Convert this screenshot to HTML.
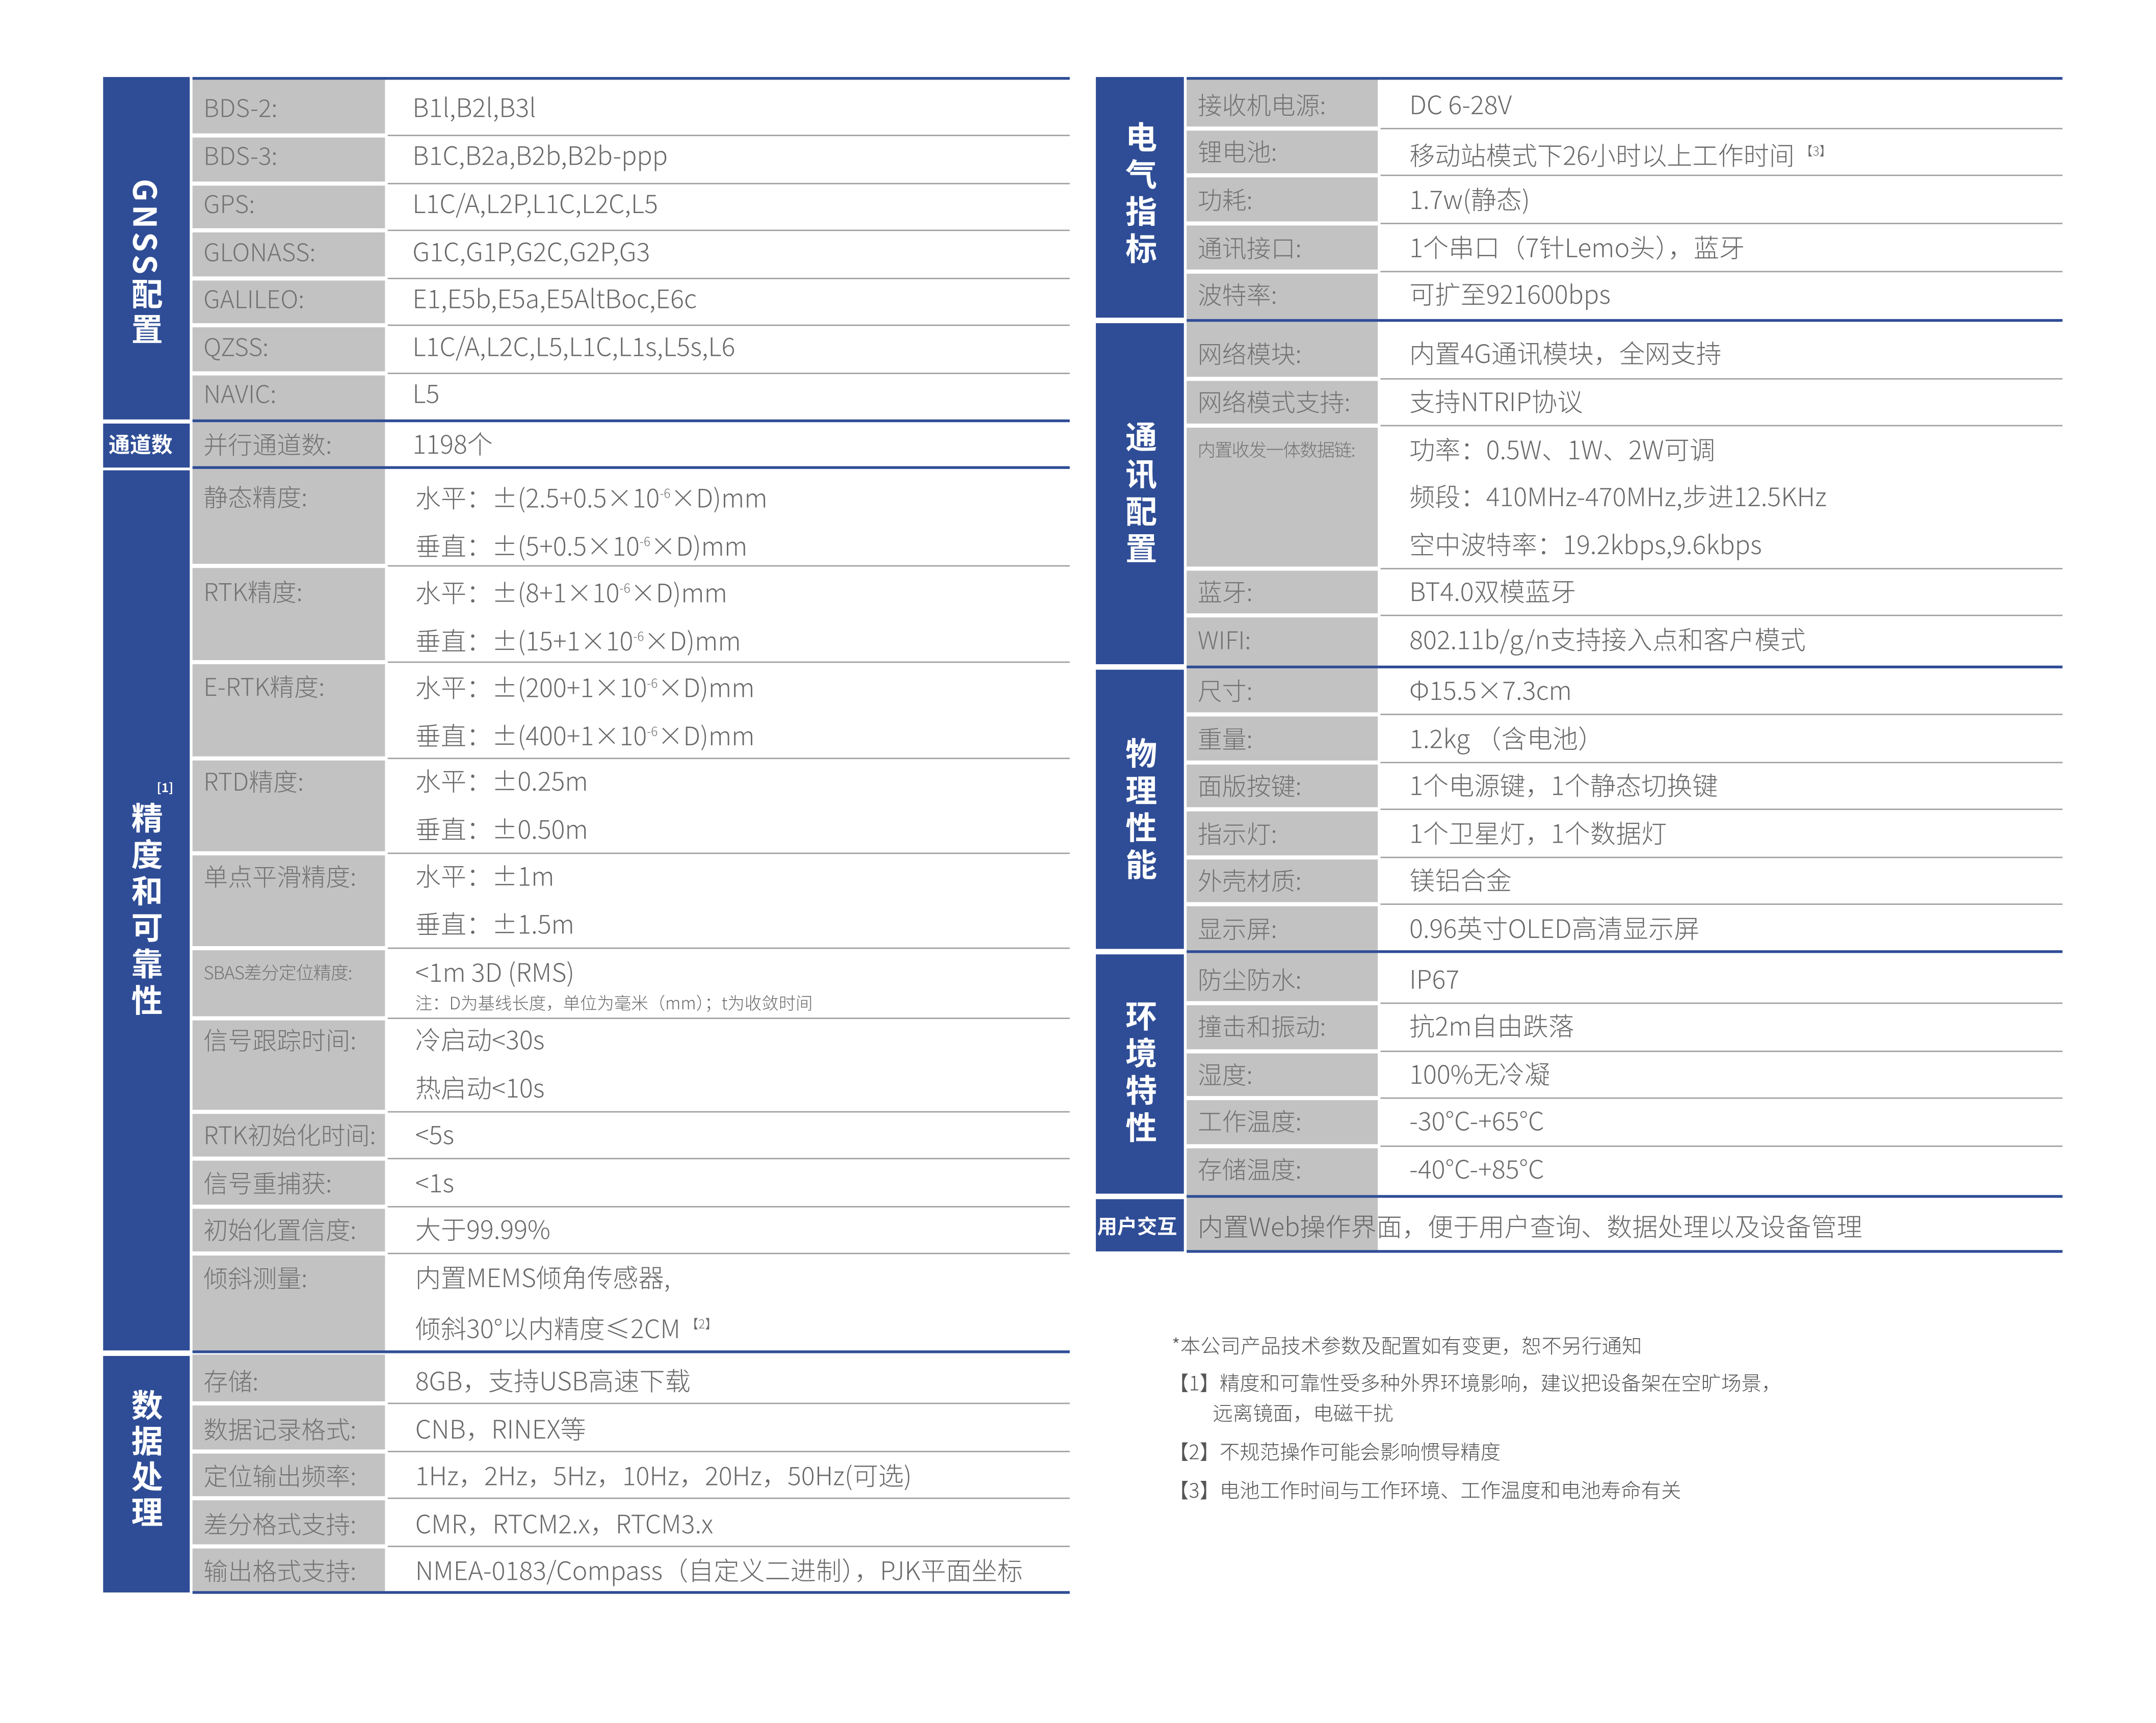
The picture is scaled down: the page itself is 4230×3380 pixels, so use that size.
<!DOCTYPE html>
<html><head><meta charset="utf-8">
<style>
html,body{margin:0;padding:0;background:#fff;}
body{width:4230px;height:3379px;overflow:hidden;position:relative;}
#w{position:absolute;left:0;top:0;width:1568px;height:1253px;transform:scale(2.6977,2.6977);transform-origin:0 0;font-family:"Liberation Sans","Noto Sans CJK SC",sans-serif;}
#w div{position:absolute;}
.b{background:#2f4d96;}
.g{background:#c2c2c2;}
.bl{background:#2f4d96;height:2px;}
.l{background:#a0a0a0;height:1px;}
.t{height:24px;line-height:24px;font-size:18.6px;white-space:nowrap;color:#6a6a6a;font-family:"Noto Sans CJK SC","Liberation Sans",sans-serif;font-weight:300;}
.lb{color:#737373;font-size:17.8px;}
.v{writing-mode:vertical-rl;text-orientation:mixed;color:#fff;font-weight:700;font-size:23px;font-family:"Noto Sans CJK SC",sans-serif;letter-spacing:3px;line-height:30px;}
.h{color:#fff;font-weight:700;font-family:"Noto Sans CJK SC",sans-serif;white-space:nowrap;}
sup{font-size:9px;vertical-align:7px;}
.n{font-size:14.6px;color:#555;height:20px;line-height:20px;white-space:nowrap;font-family:"Noto Sans CJK SC",sans-serif;font-weight:300;}
</style></head><body><div id="w">

<!-- LEFT TABLE -->
<div class="b" style="left:75px;top:56px;width:63px;height:249px"></div>
<div class="b" style="left:75px;top:308px;width:63px;height:32px"></div>
<div class="b" style="left:75px;top:342px;width:63px;height:640px"></div>
<div class="b" style="left:75px;top:986px;width:63px;height:172px"></div>

<div class="g" style="left:140px;top:58px;width:140px;height:39px"></div>
<div class="g" style="left:140px;top:100px;width:140px;height:32px"></div>
<div class="g" style="left:140px;top:135px;width:140px;height:31px"></div>
<div class="g" style="left:140px;top:169px;width:140px;height:32px"></div>
<div class="g" style="left:140px;top:204px;width:140px;height:31px"></div>
<div class="g" style="left:140px;top:238px;width:140px;height:32px"></div>
<div class="g" style="left:140px;top:273px;width:140px;height:33px"></div>
<div class="g" style="left:140px;top:307px;width:140px;height:33px"></div>
<div class="g" style="left:140px;top:341px;width:140px;height:69px"></div>
<div class="g" style="left:140px;top:413px;width:140px;height:67px"></div>
<div class="g" style="left:140px;top:483px;width:140px;height:67px"></div>
<div class="g" style="left:140px;top:553px;width:140px;height:66px"></div>
<div class="g" style="left:140px;top:622px;width:140px;height:66px"></div>
<div class="g" style="left:140px;top:691px;width:140px;height:48px"></div>
<div class="g" style="left:140px;top:742px;width:140px;height:65px"></div>
<div class="g" style="left:140px;top:810px;width:140px;height:31px"></div>
<div class="g" style="left:140px;top:844px;width:140px;height:32px"></div>
<div class="g" style="left:140px;top:879px;width:140px;height:31px"></div>
<div class="g" style="left:140px;top:913px;width:140px;height:70px"></div>
<div class="g" style="left:140px;top:985px;width:140px;height:34px"></div>
<div class="g" style="left:140px;top:1022px;width:140px;height:32px"></div>
<div class="g" style="left:140px;top:1057px;width:140px;height:31px"></div>
<div class="g" style="left:140px;top:1091px;width:140px;height:32px"></div>
<div class="g" style="left:140px;top:1126px;width:140px;height:31px"></div>

<div class="bl" style="left:140px;top:56px;width:638px"></div>
<div class="bl" style="left:140px;top:305px;width:638px"></div>
<div class="bl" style="left:140px;top:339px;width:638px"></div>
<div class="bl" style="left:140px;top:982px;width:638px"></div>
<div class="bl" style="left:140px;top:1157px;width:638px"></div>

<div class="l" style="left:282px;top:98px;width:496px"></div>
<div class="l" style="left:282px;top:133px;width:496px"></div>
<div class="l" style="left:282px;top:167px;width:496px"></div>
<div class="l" style="left:282px;top:202px;width:496px"></div>
<div class="l" style="left:282px;top:236px;width:496px"></div>
<div class="l" style="left:282px;top:271px;width:496px"></div>
<div class="l" style="left:282px;top:411px;width:496px"></div>
<div class="l" style="left:282px;top:481px;width:496px"></div>
<div class="l" style="left:282px;top:551px;width:496px"></div>
<div class="l" style="left:282px;top:620px;width:496px"></div>
<div class="l" style="left:282px;top:689px;width:496px"></div>
<div class="l" style="left:282px;top:740px;width:496px"></div>
<div class="l" style="left:282px;top:808px;width:496px"></div>
<div class="l" style="left:282px;top:842px;width:496px"></div>
<div class="l" style="left:282px;top:877px;width:496px"></div>
<div class="l" style="left:282px;top:911px;width:496px"></div>
<div class="l" style="left:282px;top:1020px;width:496px"></div>
<div class="l" style="left:282px;top:1055px;width:496px"></div>
<div class="l" style="left:282px;top:1089px;width:496px"></div>
<div class="l" style="left:282px;top:1124px;width:496px"></div>

<!-- left labels -->
<div class="v" style="left:92px;top:130px;letter-spacing:2.5px;">GNSS配置</div>
<div class="h" style="left:79px;top:311px;font-size:15.5px;line-height:24px;">通道数</div>
<div class="h" style="left:114px;top:566px;font-size:9px;">[1]</div>
<div class="v" style="left:92px;top:583px;letter-spacing:3.5px;">精度和可靠性</div>
<div class="v" style="left:92px;top:1010px;letter-spacing:3px;">数据处理</div>

<div class="t lb" style="left:148px;top:66px">BDS-2:</div>
<div class="t lb" style="left:148px;top:101px">BDS-3:</div>
<div class="t lb" style="left:148px;top:136px">GPS:</div>
<div class="t lb" style="left:148px;top:171px">GLONASS:</div>
<div class="t lb" style="left:148px;top:205px">GALILEO:</div>
<div class="t lb" style="left:148px;top:240px">QZSS:</div>
<div class="t lb" style="left:148px;top:274px">NAVIC:</div>
<div class="t lb" style="left:148px;top:311px">并行通道数:</div>
<div class="t lb" style="left:148px;top:349px">静态精度:</div>
<div class="t lb" style="left:148px;top:418px">RTK精度:</div>
<div class="t lb" style="left:148px;top:487px">E-RTK精度:</div>
<div class="t lb" style="left:148px;top:556px">RTD精度:</div>
<div class="t lb" style="left:148px;top:625px">单点平滑精度:</div>
<div class="t lb" style="left:148px;top:695px;font-size:13px;letter-spacing:-0.4px">SBAS差分定位精度:</div>
<div class="t lb" style="left:148px;top:744px">信号跟踪时间:</div>
<div class="t lb" style="left:148px;top:813px">RTK初始化时间:</div>
<div class="t lb" style="left:148px;top:848px">信号重捕获:</div>
<div class="t lb" style="left:148px;top:882px">初始化置信度:</div>
<div class="t lb" style="left:148px;top:917px">倾斜测量:</div>
<div class="t lb" style="left:148px;top:992px">存储:</div>
<div class="t lb" style="left:148px;top:1027px">数据记录格式:</div>
<div class="t lb" style="left:148px;top:1061px">定位输出频率:</div>
<div class="t lb" style="left:148px;top:1096px">差分格式支持:</div>
<div class="t lb" style="left:148px;top:1130px">输出格式支持:</div>

<!-- left values -->
<div class="t" style="left:300px;top:66px">B1l,B2l,B3l</div>
<div class="t" style="left:300px;top:101px">B1C,B2a,B2b,B2b-ppp</div>
<div class="t" style="left:300px;top:136px">L1C/A,L2P,L1C,L2C,L5</div>
<div class="t" style="left:300px;top:171px">G1C,G1P,G2C,G2P,G3</div>
<div class="t" style="left:300px;top:205px">E1,E5b,E5a,E5AltBoc,E6c</div>
<div class="t" style="left:300px;top:240px">L1C/A,L2C,L5,L1C,L1s,L5s,L6</div>
<div class="t" style="left:300px;top:274px">L5</div>
<div class="t" style="left:300px;top:311px">1198个</div>
<div class="t" style="left:302px;top:347px">水平：±(2.5+0.5×10<sup>-6</sup>×D)mm</div>
<div class="t" style="left:302px;top:382px">垂直：±(5+0.5×10<sup>-6</sup>×D)mm</div>
<div class="t" style="left:302px;top:416px">水平：±(8+1×10<sup>-6</sup>×D)mm</div>
<div class="t" style="left:302px;top:451px">垂直：±(15+1×10<sup>-6</sup>×D)mm</div>
<div class="t" style="left:302px;top:485px">水平：±(200+1×10<sup>-6</sup>×D)mm</div>
<div class="t" style="left:302px;top:520px">垂直：±(400+1×10<sup>-6</sup>×D)mm</div>
<div class="t" style="left:302px;top:556px">水平：±0.25m</div>
<div class="t" style="left:302px;top:591px">垂直：±0.50m</div>
<div class="t" style="left:302px;top:625px">水平：±1m</div>
<div class="t" style="left:302px;top:660px">垂直：±1.5m</div>
<div class="t" style="left:302px;top:695px">&lt;1m 3D (RMS)</div>
<div class="t" style="left:302px;top:719px;font-size:12.4px;height:20px;line-height:20px">注：D为基线长度，单位为毫米（mm）；t为收敛时间</div>
<div class="t" style="left:302px;top:744px">冷启动&lt;30s</div>
<div class="t" style="left:302px;top:779px">热启动&lt;10s</div>
<div class="t" style="left:302px;top:813px">&lt;5s</div>
<div class="t" style="left:302px;top:848px">&lt;1s</div>
<div class="t" style="left:302px;top:882px">大于99.99%</div>
<div class="t" style="left:302px;top:917px">内置MEMS倾角传感器,</div>
<div class="t" style="left:302px;top:951px">倾斜30°以内精度≤2CM <sup>【2】</sup></div>
<div class="t" style="left:302px;top:992px">8GB，支持USB高速下载</div>
<div class="t" style="left:302px;top:1027px">CNB，RINEX等</div>
<div class="t" style="left:302px;top:1061px">1Hz，2Hz，5Hz，10Hz，20Hz，50Hz(可选)</div>
<div class="t" style="left:302px;top:1096px">CMR，RTCM2.x，RTCM3.x</div>
<div class="t" style="left:302px;top:1130px">NMEA-0183/Compass（自定义二进制），PJK平面坐标</div>

<!-- RIGHT TABLE -->
<div class="b" style="left:797px;top:56px;width:64px;height:175px"></div>
<div class="b" style="left:797px;top:235px;width:64px;height:248px"></div>
<div class="b" style="left:797px;top:487px;width:64px;height:203px"></div>
<div class="b" style="left:797px;top:694px;width:64px;height:174px"></div>
<div class="b" style="left:797px;top:872px;width:64px;height:38px"></div>

<div class="g" style="left:863px;top:58px;width:139px;height:34px"></div>
<div class="g" style="left:863px;top:95px;width:139px;height:31px"></div>
<div class="g" style="left:863px;top:129px;width:139px;height:32px"></div>
<div class="g" style="left:863px;top:164px;width:139px;height:32px"></div>
<div class="g" style="left:863px;top:199px;width:139px;height:33px"></div>
<div class="g" style="left:863px;top:234px;width:139px;height:40px"></div>
<div class="g" style="left:863px;top:277px;width:139px;height:31px"></div>
<div class="g" style="left:863px;top:311px;width:139px;height:101px"></div>
<div class="g" style="left:863px;top:415px;width:139px;height:31px"></div>
<div class="g" style="left:863px;top:449px;width:139px;height:35px"></div>
<div class="g" style="left:863px;top:486px;width:139px;height:32px"></div>
<div class="g" style="left:863px;top:521px;width:139px;height:32px"></div>
<div class="g" style="left:863px;top:556px;width:139px;height:31px"></div>
<div class="g" style="left:863px;top:590px;width:139px;height:32px"></div>
<div class="g" style="left:863px;top:625px;width:139px;height:31px"></div>
<div class="g" style="left:863px;top:659px;width:139px;height:32px"></div>
<div class="g" style="left:863px;top:693px;width:139px;height:35px"></div>
<div class="g" style="left:863px;top:731px;width:139px;height:32px"></div>
<div class="g" style="left:863px;top:766px;width:139px;height:31px"></div>
<div class="g" style="left:863px;top:800px;width:139px;height:32px"></div>
<div class="g" style="left:863px;top:835px;width:139px;height:34px"></div>
<div class="g" style="left:863px;top:871px;width:139px;height:38px"></div>

<div class="bl" style="left:863px;top:56px;width:637px"></div>
<div class="bl" style="left:863px;top:232px;width:637px"></div>
<div class="bl" style="left:863px;top:484px;width:637px"></div>
<div class="bl" style="left:863px;top:691px;width:637px"></div>
<div class="bl" style="left:863px;top:869px;width:637px"></div>
<div class="bl" style="left:863px;top:909px;width:637px"></div>

<div class="l" style="left:1004px;top:93px;width:496px"></div>
<div class="l" style="left:1004px;top:127px;width:496px"></div>
<div class="l" style="left:1004px;top:162px;width:496px"></div>
<div class="l" style="left:1004px;top:197px;width:496px"></div>
<div class="l" style="left:1004px;top:275px;width:496px"></div>
<div class="l" style="left:1004px;top:309px;width:496px"></div>
<div class="l" style="left:1004px;top:413px;width:496px"></div>
<div class="l" style="left:1004px;top:447px;width:496px"></div>
<div class="l" style="left:1004px;top:519px;width:496px"></div>
<div class="l" style="left:1004px;top:554px;width:496px"></div>
<div class="l" style="left:1004px;top:588px;width:496px"></div>
<div class="l" style="left:1004px;top:623px;width:496px"></div>
<div class="l" style="left:1004px;top:657px;width:496px"></div>
<div class="l" style="left:1004px;top:729px;width:496px"></div>
<div class="l" style="left:1004px;top:764px;width:496px"></div>
<div class="l" style="left:1004px;top:798px;width:496px"></div>
<div class="l" style="left:1004px;top:833px;width:496px"></div>

<div class="v" style="left:815px;top:88px;letter-spacing:4px;">电气指标</div>
<div class="v" style="left:815px;top:306px;letter-spacing:4px;">通讯配置</div>
<div class="v" style="left:815px;top:536px;letter-spacing:4px;">物理性能</div>
<div class="v" style="left:815px;top:727px;letter-spacing:4px;">环境特性</div>
<div class="h" style="left:798px;top:881px;font-size:14.5px;line-height:22px;">用户交互</div>

<div class="t lb" style="left:871px;top:64px">接收机电源:</div>
<div class="t lb" style="left:871px;top:98px">锂电池:</div>
<div class="t lb" style="left:871px;top:133px">功耗:</div>
<div class="t lb" style="left:871px;top:168px">通讯接口:</div>
<div class="t lb" style="left:871px;top:202px">波特率:</div>
<div class="t lb" style="left:871px;top:245px">网络模块:</div>
<div class="t lb" style="left:871px;top:280px">网络模式支持:</div>
<div class="t lb" style="left:871px;top:315px;font-size:13px;letter-spacing:-0.6px">内置收发一体数据链:</div>
<div class="t lb" style="left:871px;top:418px">蓝牙:</div>
<div class="t lb" style="left:871px;top:453px">WIFI:</div>
<div class="t lb" style="left:871px;top:490px">尺寸:</div>
<div class="t lb" style="left:871px;top:525px">重量:</div>
<div class="t lb" style="left:871px;top:559px">面版按键:</div>
<div class="t lb" style="left:871px;top:594px">指示灯:</div>
<div class="t lb" style="left:871px;top:628px">外壳材质:</div>
<div class="t lb" style="left:871px;top:663px">显示屏:</div>
<div class="t lb" style="left:871px;top:700px">防尘防水:</div>
<div class="t lb" style="left:871px;top:734px">撞击和振动:</div>
<div class="t lb" style="left:871px;top:769px">湿度:</div>
<div class="t lb" style="left:871px;top:803px">工作温度:</div>
<div class="t lb" style="left:871px;top:838px">存储温度:</div>

<div class="t" style="left:1025px;top:64px">DC 6-28V</div>
<div class="t" style="left:1025px;top:98px">移动站模式下26小时以上工作时间 <sup>【3】</sup></div>
<div class="t" style="left:1025px;top:133px">1.7w(静态)</div>
<div class="t" style="left:1025px;top:168px">1个串口（7针Lemo头），蓝牙</div>
<div class="t" style="left:1025px;top:202px">可扩至921600bps</div>
<div class="t" style="left:1025px;top:245px">内置4G通讯模块，全网支持</div>
<div class="t" style="left:1025px;top:280px">支持NTRIP协议</div>
<div class="t" style="left:1025px;top:315px">功率：0.5W、1W、2W可调</div>
<div class="t" style="left:1025px;top:349px">频段：410MHz-470MHz,步进12.5KHz</div>
<div class="t" style="left:1025px;top:384px">空中波特率：19.2kbps,9.6kbps</div>
<div class="t" style="left:1025px;top:418px">BT4.0双模蓝牙</div>
<div class="t" style="left:1025px;top:453px">802.11b/g/n支持接入点和客户模式</div>
<div class="t" style="left:1025px;top:490px">Φ15.5×7.3cm</div>
<div class="t" style="left:1025px;top:525px">1.2kg （含电池）</div>
<div class="t" style="left:1025px;top:559px">1个电源键，1个静态切换键</div>
<div class="t" style="left:1025px;top:594px">1个卫星灯，1个数据灯</div>
<div class="t" style="left:1025px;top:628px">镁铝合金</div>
<div class="t" style="left:1025px;top:663px">0.96英寸OLED高清显示屏</div>
<div class="t" style="left:1025px;top:700px">IP67</div>
<div class="t" style="left:1025px;top:734px">抗2m自由跌落</div>
<div class="t" style="left:1025px;top:769px">100%无冷凝</div>
<div class="t" style="left:1025px;top:803px">-30°C-+65°C</div>
<div class="t" style="left:1025px;top:838px">-40°C-+85°C</div>
<div class="t" style="left:871px;top:880px">内置Web操作界面，便于用户查询、数据处理以及设备管理</div>

<!-- notes -->
<div class="n" style="left:852px;top:969px">*本公司产品技术参数及配置如有变更，恕不另行通知</div>
<div class="n" style="left:850px;top:996px">【1】精度和可靠性受多种外界环境影响，建议把设备架在空旷场景，</div>
<div class="n" style="left:882px;top:1018px">远离镜面，电磁干扰</div>
<div class="n" style="left:850px;top:1046px">【2】不规范操作可能会影响惯导精度</div>
<div class="n" style="left:850px;top:1074px">【3】电池工作时间与工作环境、工作温度和电池寿命有关</div>

</div></body></html>
